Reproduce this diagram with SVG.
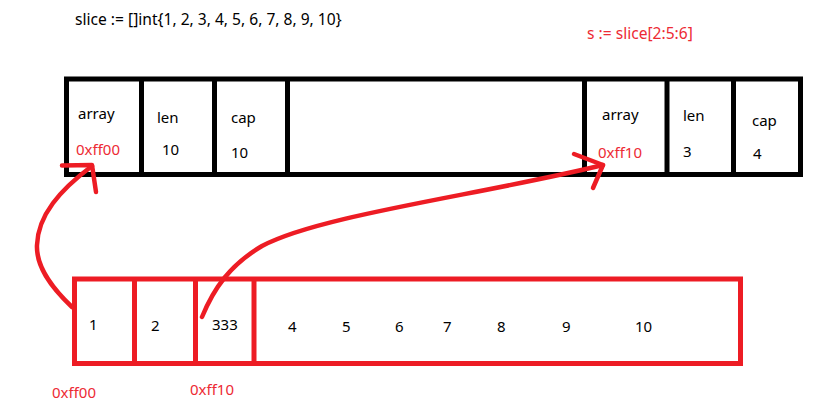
<svg xmlns="http://www.w3.org/2000/svg" width="831" height="410" viewBox="0 0 831 410">
<style>
.t{font-family:"Noto Sans","Open Sans",sans-serif;font-size:15px;fill:#000}
.big{font-size:15.6px}
.r{fill:#ed2a34}
.box{fill:none;stroke:#000;stroke-width:5}
.rbox{fill:none;stroke:#ed1c24;stroke-width:5}
.con{fill:none;stroke:#ed1c24;stroke-width:4.5;stroke-linecap:round;stroke-linejoin:round}
</style>
<rect width="831" height="410" fill="#fff"/>
<text class="t big" x="75" y="25">slice := []int{1, 2, 3, 4, 5, 6, 7, 8, 9, 10}</text>
<text class="t big r" x="587" y="39">s := slice[2:5:6]</text>
<g id="slice-header">
<rect class="box" x="66.5" y="79" width="734" height="95.5"/>
<line class="box" x1="141.5" y1="79" x2="141.5" y2="174.5"/>
<line class="box" x1="214.5" y1="79" x2="214.5" y2="174.5"/>
<line class="box" x1="287.5" y1="79" x2="287.5" y2="174.5"/>
<line class="box" x1="584.5" y1="79" x2="584.5" y2="174.5"/>
<line class="box" x1="667" y1="79" x2="667" y2="174.5"/>
<line class="box" x1="733.5" y1="79" x2="733.5" y2="174.5"/>
</g>
<g id="h-array"><text class="t" x="78" y="119">array</text><text class="t r" x="76" y="155">0xff00</text></g>
<g id="h-len"><text class="t" x="157" y="123">len</text><text class="t" x="162" y="155">10</text></g>
<g id="h-cap"><text class="t" x="231" y="123">cap</text><text class="t" x="231" y="158">10</text></g>
<g id="s-array"><text class="t" x="602" y="120">array</text><text class="t r" x="598" y="158">0xff10</text></g>
<g id="s-len"><text class="t" x="683" y="121">len</text><text class="t" x="683" y="157">3</text></g>
<g id="s-cap"><text class="t" x="752" y="126">cap</text><text class="t" x="753" y="159">4</text></g>
<g id="array">
<rect class="rbox" x="74.5" y="279" width="666" height="84.5"/>
<line class="rbox" x1="134.5" y1="279" x2="134.5" y2="363.5"/>
<line class="rbox" x1="195.5" y1="279" x2="195.5" y2="363.5"/>
<line class="rbox" x1="254" y1="279" x2="254" y2="365"/>
<text class="t" x="89" y="330">1</text>
<text class="t" x="151" y="331">2</text>
<text class="t" x="212" y="330">333</text>
<text class="t" x="288" y="332">4</text>
<text class="t" x="342" y="332">5</text>
<text class="t" x="395" y="332">6</text>
<text class="t" x="443" y="332">7</text>
<text class="t" x="497" y="332">8</text>
<text class="t" x="562" y="332">9</text>
<text class="t" x="635" y="332">10</text>
<text class="t r" x="52" y="398">0xff00</text>
<text class="t r" x="190" y="395">0xff10</text>
</g>
<g id="connectors">
<path class="con" d="M72,307 C50,286 36,266 37,245 C38,215 60,190 92,166"/>
<path class="con" d="M62,165.5 L92,165 L96,192"/>
<path class="con" d="M202,317 C214,288 230,265 262,246 C320,215 480,195 603,165"/>
<path class="con" d="M574,154 L603,165 L593,188"/>
</g>
</svg>
